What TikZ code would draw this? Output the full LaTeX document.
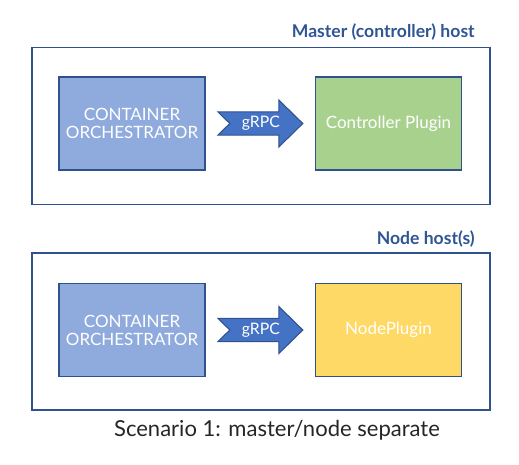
\documentclass[tikz,border=0pt]{standalone}
\usepackage{fontspec}
\setmainfont{Lato}
\usetikzlibrary{positioning, calc}
\definecolor{hostblue}{HTML}{2F5597}
\definecolor{edgeblue}{HTML}{2F528F}
\definecolor{orchblue}{HTML}{8FAADC}
\definecolor{arrowblue}{HTML}{4472C4}
\definecolor{plugingreen}{HTML}{A9D18E}
\definecolor{pluginyellow}{HTML}{FFD966}
\definecolor{captiongray}{HTML}{262626}

\begin{document}
\begin{tikzpicture}[x=0.03cm, y=-0.03cm,
		hostbox/.style={rectangle, draw=edgeblue, line width=1.4pt, minimum width=13.74cm, minimum height=4.7cm},
		innerbox/.style={rectangle, draw=edgeblue, line width=1.4pt, minimum width=4.38cm, minimum height=2.79cm, align=center, text=white, font=\fontsize{14.5}{15.5}\selectfont},
		orchbox/.style={innerbox, fill=orchblue},
		hosttitle/.style={anchor=east, text=hostblue, font=\fontsize{15}{18}\selectfont\bfseries},
		blockarrow/.style={draw=edgeblue, fill=arrowblue, line width=0.9pt, line join=miter},
		arrowlabel/.style={text=white, font=\fontsize{13.5}{16}\selectfont}
	]
	\useasboundingbox (0,0) rectangle (519,464);
	
	% Master (controller) host
	\node[hostbox] (hostA) at (261,126) {};
	\node[hosttitle] (titleA) at ($(hostA.north east)+(-12,-15)$) {Master (controller) host};
	\node[orchbox] (orchA) at (132,123.5) {CONTAINER\\ORCHESTRATOR};
	\node[innerbox, fill=plugingreen] (ctrl) at (388.5,123.5) {Controller Plugin};
	\draw[blockarrow] ($(orchA.east)+(12,-11.7)$) -- ++(61,0) -- ++(0,-11.8) -- ++(24,23.5)
		-- ++(-24,23.5) -- ++(0,-11.8) -- ++(-61,0) -- ++(12,-11.7) -- cycle;
	\node[arrowlabel] (grpcA) at ($(orchA.east)+(55,0)$) {gRPC};
	
	% Node host(s)
	\node[hostbox] (hostB) at (261,331.5) {};
	\node[hosttitle] (titleB) at ($(hostB.north east)+(-12,-13)$) {Node host(s)};
	\node[orchbox] (orchB) at (132,330) {CONTAINER\\ORCHESTRATOR};
	\node[innerbox, fill=pluginyellow] (nodeplug) at (388.5,330) {NodePlugin};
	\draw[blockarrow] ($(orchB.east)+(12,-11.7)$) -- ++(61,0) -- ++(0,-11.8) -- ++(24,23.5)
		-- ++(-24,23.5) -- ++(0,-11.8) -- ++(-61,0) -- ++(12,-11.7) -- cycle;
	\node[arrowlabel] (grpcB) at ($(orchB.east)+(55,0)$) {gRPC};
	
	% Caption
	\node[text=captiongray, font=\fontsize{18.8}{22}\selectfont] (caption) at ($(hostB.south)+(16,20)$) {Scenario 1: master/node separate};
\end{tikzpicture}
\end{document}
